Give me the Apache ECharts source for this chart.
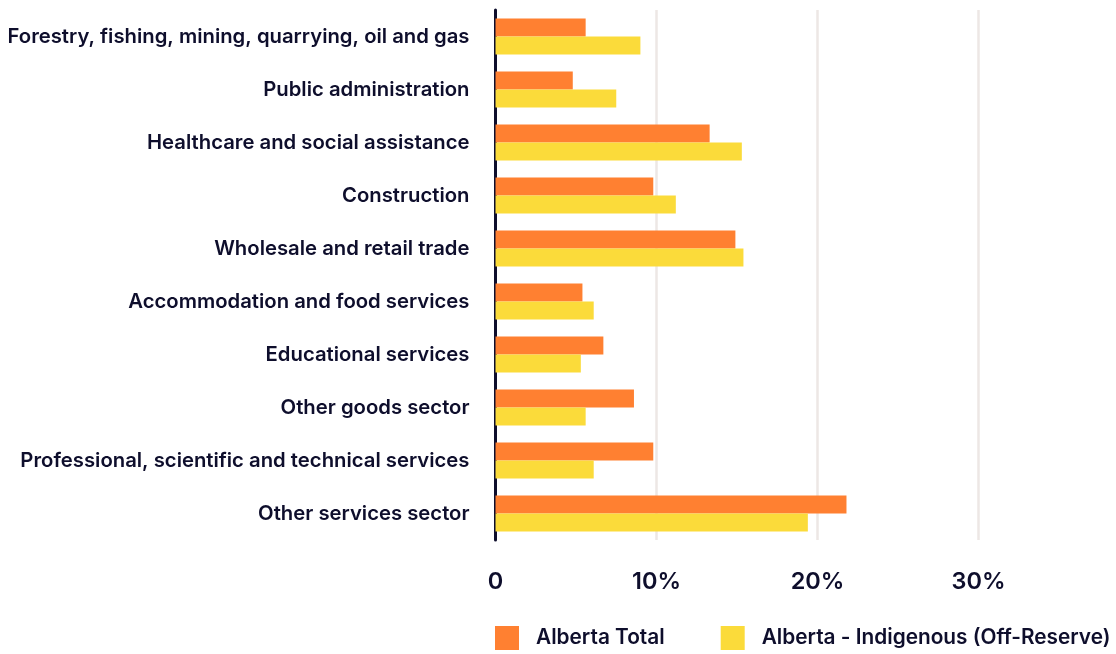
<!DOCTYPE html>
<html>
<head>
<meta charset="utf-8">
<style>
  html, body { margin: 0; padding: 0; background: #ffffff; }
  #chart { width: 1116px; height: 654px; }
</style>
<script src="https://cdn.jsdelivr.net/npm/echarts@6/dist/echarts.min.js"></script>
</head>
<body>
<div id="chart"></div>
<script>
// Industry categories, listed top to bottom
const categories = [
  'Forestry, fishing, mining, quarrying, oil and gas',
  'Public administration',
  'Healthcare and social assistance',
  'Construction',
  'Wholesale and retail trade',
  'Accommodation and food services',
  'Educational services',
  'Other goods sector',
  'Professional, scientific and technical services',
  'Other services sector'
];

// Share of employment by industry (%)
const albertaTotal = [5.6, 4.8, 13.3, 9.8, 14.9, 5.4, 6.7, 8.6, 9.8, 21.8];
const albertaIndigenous = [9.0, 7.5, 15.3, 11.2, 15.4, 6.1, 5.3, 5.6, 6.1, 19.4];

const seriesNames = ['Alberta Total', 'Alberta - Indigenous (Off-Reserve)'];

const xTicks = [0, 10, 20, 30];

const ink = '#0e0e2c';
const font = 'Inter';

const chart = echarts.init(document.getElementById('chart'), null, { renderer: 'canvas' });

chart.setOption({
  animation: false,
  backgroundColor: '#ffffff',
  grid: {
    left: 495.5,
    top: 10,
    width: 644,
    height: 530,
    containLabel: false,
    outerBoundsMode: 'none'
  },
  legend: {
    left: 495,
    top: 626,
    width: 760,
    padding: 0,
    itemWidth: 24,
    itemHeight: 24,
    itemGap: 56,
    icon: 'rect',
    data: seriesNames,
    textStyle: {
      fontFamily: font,
      fontSize: 20.8,
      fontWeight: 600,
      color: ink,
      padding: [0, 0, 0, 12]
    }
  },
  xAxis: {
    type: 'value',
    min: 0,
    max: 40,
    interval: 10,
    axisLine: { show: false },
    axisTick: { show: false },
    splitLine: {
      show: true,
      lineStyle: { color: '#ede7e5', width: 2.5 }
    },
    axisLabel: {
      showMaxLabel: false,
      margin: 30,
      fontFamily: font,
      fontSize: 23.5,
      fontWeight: 600,
      color: ink,
      formatter: v => (xTicks.indexOf(v) === -1 ? '' : (v === 0 ? '0' : v + '%'))
    }
  },
  yAxis: {
    type: 'category',
    inverse: true,
    data: categories,
    axisLine: { show: true, lineStyle: { color: ink, width: 3 } },
    axisTick: { show: false },
    axisLabel: {
      margin: 26,
      fontFamily: font,
      fontSize: 20.3,
      fontWeight: 600,
      color: ink
    }
  },
  series: [
    {
      name: seriesNames[0],
      type: 'bar',
      data: albertaTotal,
      barWidth: 18,
      barGap: '0%',
      itemStyle: { color: '#ff8031' }
    },
    {
      name: seriesNames[1],
      type: 'bar',
      data: albertaIndigenous,
      barWidth: 18,
      barGap: '0%',
      itemStyle: { color: '#fbdb3a' }
    }
  ]
});
</script>
</body>
</html>
